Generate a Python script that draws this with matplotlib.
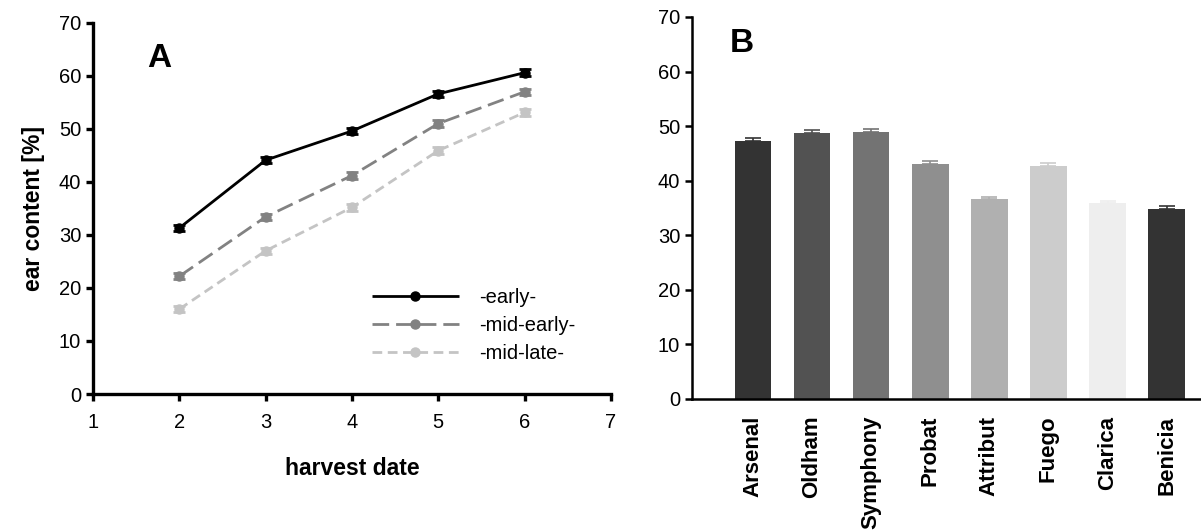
import matplotlib
matplotlib.use("Agg")
import matplotlib.pyplot as plt
from matplotlib.lines import Line2D
import numpy as np

plt.rcParams['font.family'] = ['Liberation Sans', 'DejaVu Sans']

# Panel A data
harvest = [2, 3, 4, 5, 6]
early = [31.3, 44.1, 49.6, 56.6, 60.6]
early_err = [0.6, 0.6, 0.6, 0.6, 0.6]
mid_early = [22.2, 33.4, 41.2, 51.0, 57.0]
mid_early_err = [0.6, 0.6, 0.6, 0.6, 0.6]
mid_late = [16.0, 27.0, 35.2, 45.9, 53.1]
mid_late_err = [0.6, 0.6, 0.6, 0.6, 0.6]

# Panel B data
varieties = ["Arsenal", "Oldham", "Symphony", "Probat", "Attribut", "Fuego", "Clarica", "Benicia"]
ear_content = [47.3, 48.8, 48.9, 43.1, 36.6, 42.7, 35.9, 34.8]
ear_err = [0.45, 0.5, 0.5, 0.5, 0.5, 0.5, 0.35, 0.5]
bar_colors = ["#333333", "#525252", "#737373", "#8f8f8f", "#b0b0b0", "#cccccc", "#eeeeee", "#333333"]

fig = plt.figure(figsize=(12.01, 5.31), dpi=100)

# ---------- Panel A ----------
axA = fig.add_axes([0.0774, 0.258, 0.4313, 0.699])
series = [
    (early, early_err, "-early-", "#000000", (0, ())),
    (mid_early, mid_early_err, "-mid-early-", "#828282", (0, (6, 2.5))),
    (mid_late, mid_late_err, "-mid-late-", "#c4c4c4", (0, (3.5, 2))),
]
handles = []
for vals, errs, lab, col, ls in series:
    axA.errorbar(harvest, vals, yerr=errs, color=col, linestyle=ls, linewidth=2.0,
                 marker="o", markersize=6.5, capsize=4, capthick=2, elinewidth=2)
    handles.append(Line2D([], [], color=col, linestyle=ls, linewidth=2.0,
                          marker="o", markersize=6.5, label=lab))
axA.set_xlim(1, 7)
axA.set_ylim(0, 70)
axA.set_xticks(range(1, 8))
axA.set_yticks(range(0, 71, 10))
for s in ["top", "right"]:
    axA.spines[s].set_visible(False)
for s in ["left", "bottom"]:
    axA.spines[s].set_linewidth(2.4)
axA.tick_params(axis="both", direction="out", length=5, width=2.4, labelsize=14.5)
axA.tick_params(axis="x", pad=9)
axA.set_xlabel("harvest date", fontsize=16.5, fontweight="bold", labelpad=18)
axA.set_ylabel("ear content [%]", fontsize=16.5, fontweight="bold", labelpad=10)
axA.text(0.105, 0.905, "A", transform=axA.transAxes, fontsize=24, fontweight="bold",
         ha="left", va="center")
axA.legend(handles=handles, loc="upper left", bbox_to_anchor=(0.523, 0.307), frameon=False,
           fontsize=14.5, handlelength=4.3, handletextpad=1.0, labelspacing=0.45,
           borderaxespad=0)

# ---------- Panel B ----------
axB = fig.add_axes([0.5762, 0.2486, 0.4238, 0.7194])
x = np.arange(len(varieties))
axB.bar(x, ear_content, width=0.62, color=bar_colors)
for xi, v, e, c in zip(x, ear_content, ear_err, bar_colors):
    axB.errorbar([xi], [v], yerr=[[0], [e]], color=c, capsize=6, capthick=1.2,
                 elinewidth=1.2, linestyle="none")
axB.set_xlim(-1.03, 7.58)
axB.set_ylim(0, 70)
axB.set_yticks(range(0, 71, 10))
axB.set_xticks(x)
axB.set_xticklabels(varieties, rotation=90, fontsize=16, fontweight="bold")
for s in ["top", "right"]:
    axB.spines[s].set_visible(False)
for s in ["left", "bottom"]:
    axB.spines[s].set_linewidth(1.8)
axB.tick_params(axis="y", direction="out", length=5, width=1.8, labelsize=14.5)
axB.tick_params(axis="x", length=0, pad=12)
axB.text(0.075, 0.93, "B", transform=axB.transAxes, fontsize=24, fontweight="bold",
         ha="left", va="center")

fig.savefig("out.png", dpi=100)
